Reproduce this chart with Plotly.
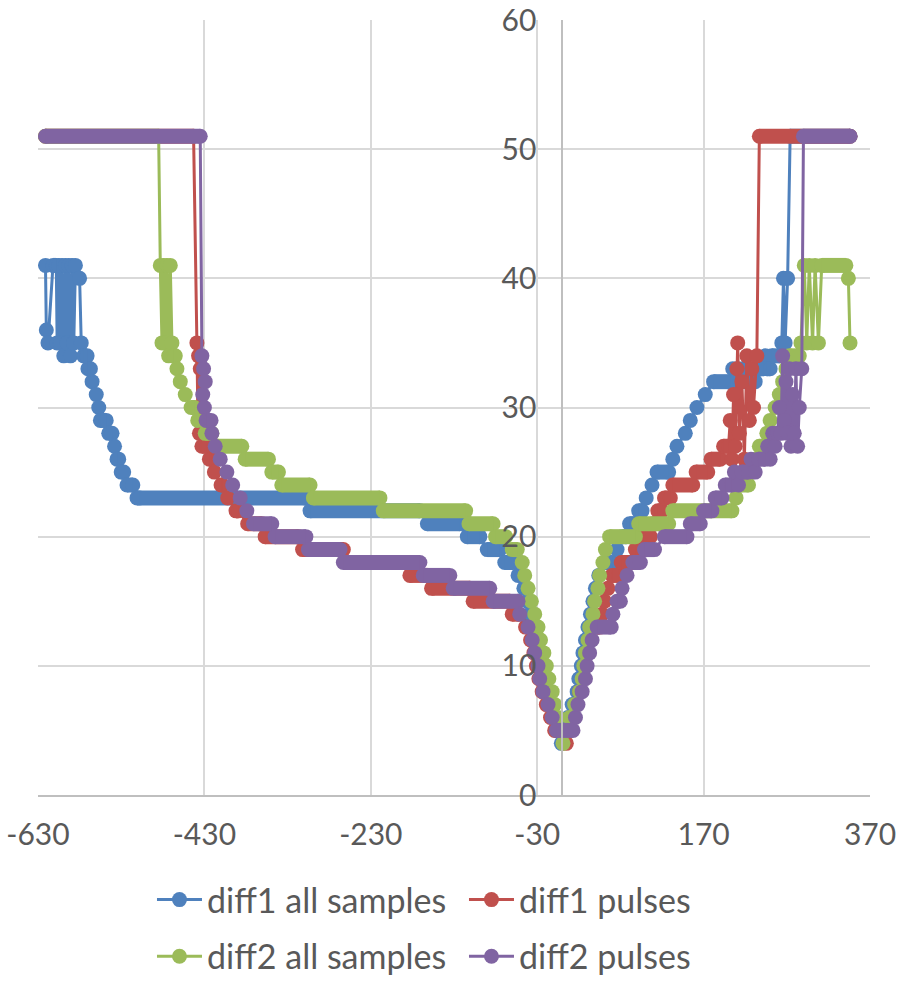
import plotly.graph_objects as go

# ---------------- data (x offset, diff value) ----------------
diff1_all_x = [-621, -620, -618, -612, -608, -607, -605, -603, -601, -599, -597, -595, -593, -591, -589, -587, -585,
               -580, -578, -575, -571, -570, -567, -565, -560, -557, -555, -548, -545, -541, -538, -535, -533, -530,
               -527, -523, -516, -511, -508, -309, -303, -171, -162, -123, -114, -99, -90, -75, -69, -59, -53, -48,
               -46, -42, -39, -35, -31, -28, -24, -21, -17, -13, -10, -6, -1, 3, 7, 12, 18, 20, 23, 25, 28, 31, 34,
               37, 40, 44, 52, 60, 66, 72, 77, 81, 86, 92, 96, 101, 108, 114, 128, 133, 138, 148, 154, 162, 172, 182,
               202, 205, 208, 211, 214, 217, 220, 223, 226, 229, 232, 236, 242, 244, 246, 250, 252, 262, 264, 266,
               268, 271, 274, 346]
diff1_all_y = [41, 36, 35, 41, 41, 35, 41, 35, 41, 34, 41, 35, 41, 34, 41, 35, 41,
               40, 35, 34, 34, 33, 33, 32, 31, 30, 29, 29, 28, 28, 27, 26, 26, 25,
               25, 24, 24, 23, 23, 23, 22, 22, 21, 21, 20, 20, 19, 19, 18, 18, 17, 17,
               16, 15, 14, 13, 12, 11, 10, 9, 8, 7, 6, 5, 4, 5, 6, 7, 8, 9, 10, 11, 12, 13, 14,
               15, 16, 17, 18, 18, 19, 20, 20, 21, 21, 22, 22, 23, 24, 25, 25, 26, 27, 28, 29, 30, 31, 32,
               32, 33, 32, 33, 32, 33, 32, 33, 32, 33, 32, 33, 33, 34, 33, 33, 34, 34, 35, 40,
               35, 40, 51, 51]

diff1_pulses_x = [-621, -443, -439, -438, -437, -436, -435, -434, -433, -427, -424, -421, -418, -410, -408, -402,
                  -392, -389, -378, -361, -357, -317, -312, -263, -259, -187, -183, -161, -157, -111, -107, -63,
                  -60, -52, -44, -38, -34, -31, -28, -24, -19, -14, -9, 1, 5, 9, 13, 17, 21, 25, 27, 30, 33, 37,
                  45, 48, 51, 55, 60, 68, 71, 84, 88, 97, 100, 106, 109, 112, 115, 120, 123, 130, 133, 157, 161,
                  175, 179, 190, 194, 200, 202, 204, 206, 208, 210, 211, 213, 216, 219, 222, 225, 228, 230, 234,
                  237, 346]
diff1_pulses_y = [51, 51, 35, 30, 34, 28, 33, 29, 27, 27, 26, 26, 25, 24, 24, 23,
                  22, 22, 21, 21, 20, 20, 19, 19, 18, 18, 17, 17, 16, 16, 15, 15,
                  14, 14, 13, 12, 11, 10, 9, 8, 7, 6, 5, 5, 4, 5, 6, 7, 8, 9, 10, 11, 12, 13,
                  13, 14, 15, 16, 17, 17, 18, 18, 19, 19, 20, 20, 21, 21, 22, 22, 23, 23, 24, 24, 25,
                  25, 26, 26, 27, 27, 29, 26, 31, 27, 33, 35, 28, 32, 26, 34, 29, 33, 30, 34,
                  51, 51]

diff2_all_x = [-621, -485, -483, -481, -479, -477, -475, -473, -471, -469, -467, -465, -463, -459, -453, -446,
               -442, -438, -429, -421, -414, -385, -381, -353, -349, -341, -337, -303, -299, -219, -215, -116,
               -112, -83, -80, -68, -60, -54, -48, -45, -41, -37, -33, -29, -26, -22, -19, -16, -12, -9, -5, -2,
               1, 4, 9, 15, 21, 24, 26, 28, 31, 33, 37, 39, 43, 45, 49, 52, 57, 88, 92, 128, 133, 204, 209, 214,
               224, 228, 233, 237, 243, 246, 250, 256, 261, 265, 269, 273, 285, 287, 291, 294, 297, 301, 304,
               308, 312, 341, 344, 346]
diff2_all_y = [51, 51, 41, 35, 41, 35, 41, 34, 41, 35, 34, 34, 33, 32, 31, 30,
               30, 29, 28, 28, 27, 27, 26, 26, 25, 25, 24, 24, 23, 23, 22, 22,
               21, 21, 20, 20, 19, 19, 18, 17, 16, 15, 14, 13, 12, 11, 10, 9, 8, 7, 6, 5,
               4, 5, 6, 7, 8, 9, 10, 11, 12, 13, 14, 15, 16, 17, 18, 19, 20, 20, 21, 21, 22, 22, 23, 24,
               24, 25, 26, 27, 27, 28, 29, 30, 31, 32, 33, 34, 34, 35, 41, 35, 41, 35, 41,
               35, 41, 41, 40, 35]

diff2_pulses_x = [-621, -435, -433, -432, -431, -430, -429, -428, -422, -421, -417, -411, -403, -396, -387, -379,
                  -371, -349, -345, -308, -305, -267, -263, -171, -167, -135, -131, -87, -83, -53, -51, -41, -36,
                  -33, -29, -27, -23, -17, -12, -7, 13, 16, 19, 24, 28, 30, 33, 36, 42, 59, 61, 66, 70, 72, 78,
                  85, 94, 99, 111, 123, 150, 154, 166, 170, 180, 184, 192, 196, 204, 207, 212, 216, 224, 227, 232,
                  236, 244, 247, 250, 253, 256, 259, 261, 263, 265, 267, 269, 271, 273, 275, 277, 279, 281, 283,
                  285, 288, 290, 346]
diff2_pulses_y = [51, 51, 34, 31, 33, 30, 32, 29, 29, 28, 27, 26, 25, 24, 23, 22,
                  21, 21, 20, 20, 19, 19, 18, 18, 17, 17, 16, 16, 15, 15, 14, 13, 12,
                  11, 10, 9, 8, 7, 6, 5, 5, 6, 7, 8, 9, 10, 11, 12, 13, 13, 14, 15, 15, 16, 17,
                  18, 18, 19, 19, 20, 20, 21, 21, 22, 22, 23, 23, 24, 24, 25, 24, 25, 25, 26, 25,
                  26, 26, 27, 26, 28, 27, 28, 30, 28, 34, 29, 32, 28, 33, 27, 31, 28, 33, 27,
                  30, 33, 51, 51]

series = [
    ("diff1 all samples", diff1_all_x, diff1_all_y, "#4F81BD", "legend"),
    ("diff1 pulses", diff1_pulses_x, diff1_pulses_y, "#C0504D", "legend"),
    ("diff2 all samples", diff2_all_x, diff2_all_y, "#9BBB59", "legend2"),
    ("diff2 pulses", diff2_pulses_x, diff2_pulses_y, "#8064A2", "legend2"),
]

x_ticks = [-630, -430, -230, -30, 170, 370]
y_ticks = [0, 10, 20, 30, 40, 50, 60]

FONT = "Lato"
TXT = "#595959"
MS = 15

fig = go.Figure()
for name, xs, ys, col, lg in series:
    fig.add_trace(go.Scatter(
        x=xs, y=ys, name=name, mode="lines+markers", legend=lg,
        line=dict(color=col, width=3),
        marker=dict(color=col, size=MS, line=dict(width=0)),
        hoverinfo="skip"))
    # runs of equal consecutive values drawn as dense marker bands
    bx, by = [], []
    for i in range(len(xs) - 1):
        if ys[i] == ys[i + 1]:
            bx += [xs[i], xs[i + 1], None]
            by += [ys[i], ys[i + 1], None]
    fig.add_trace(go.Scatter(
        x=bx, y=by, mode="lines", showlegend=False, hoverinfo="skip",
        line=dict(color=col, width=MS)))

legend_common = dict(orientation="h", x=0.137, xanchor="left", yanchor="middle",
                     itemwidth=45, entrywidth=252, font=dict(family=FONT, size=34, color=TXT),
                     bgcolor="rgba(0,0,0,0)")

fig.update_layout(
    width=898, height=981,
    margin=dict(l=38, r=28, t=20, b=186, autoexpand=False),
    paper_bgcolor="white", plot_bgcolor="white",
    font=dict(family=FONT, size=30, color=TXT),
    xaxis=dict(range=[-630, 370], tickvals=x_ticks, ticktext=[str(v) for v in x_ticks],
               showgrid=True, gridcolor="#D9D9D9", gridwidth=1.5, zeroline=False,
               showline=True, linecolor="#BFBFBF", linewidth=1.5, ticks="", automargin=False,
               ticklabelstandoff=12, tickfont=dict(size=30, color=TXT)),
    yaxis=dict(range=[0, 60], tickvals=y_ticks, anchor="free", position=0.63,
               showgrid=True, gridcolor="#D9D9D9", gridwidth=1.5, zeroline=False,
               showline=True, linecolor="#BFBFBF", linewidth=1.5, ticks="", automargin=False,
               ticklabelstandoff=19, tickfont=dict(size=30, color=TXT)),
    legend=dict(y=-0.1355, **legend_common),
    legend2=dict(y=-0.2085, **legend_common),
)

fig.write_html("out.html")
